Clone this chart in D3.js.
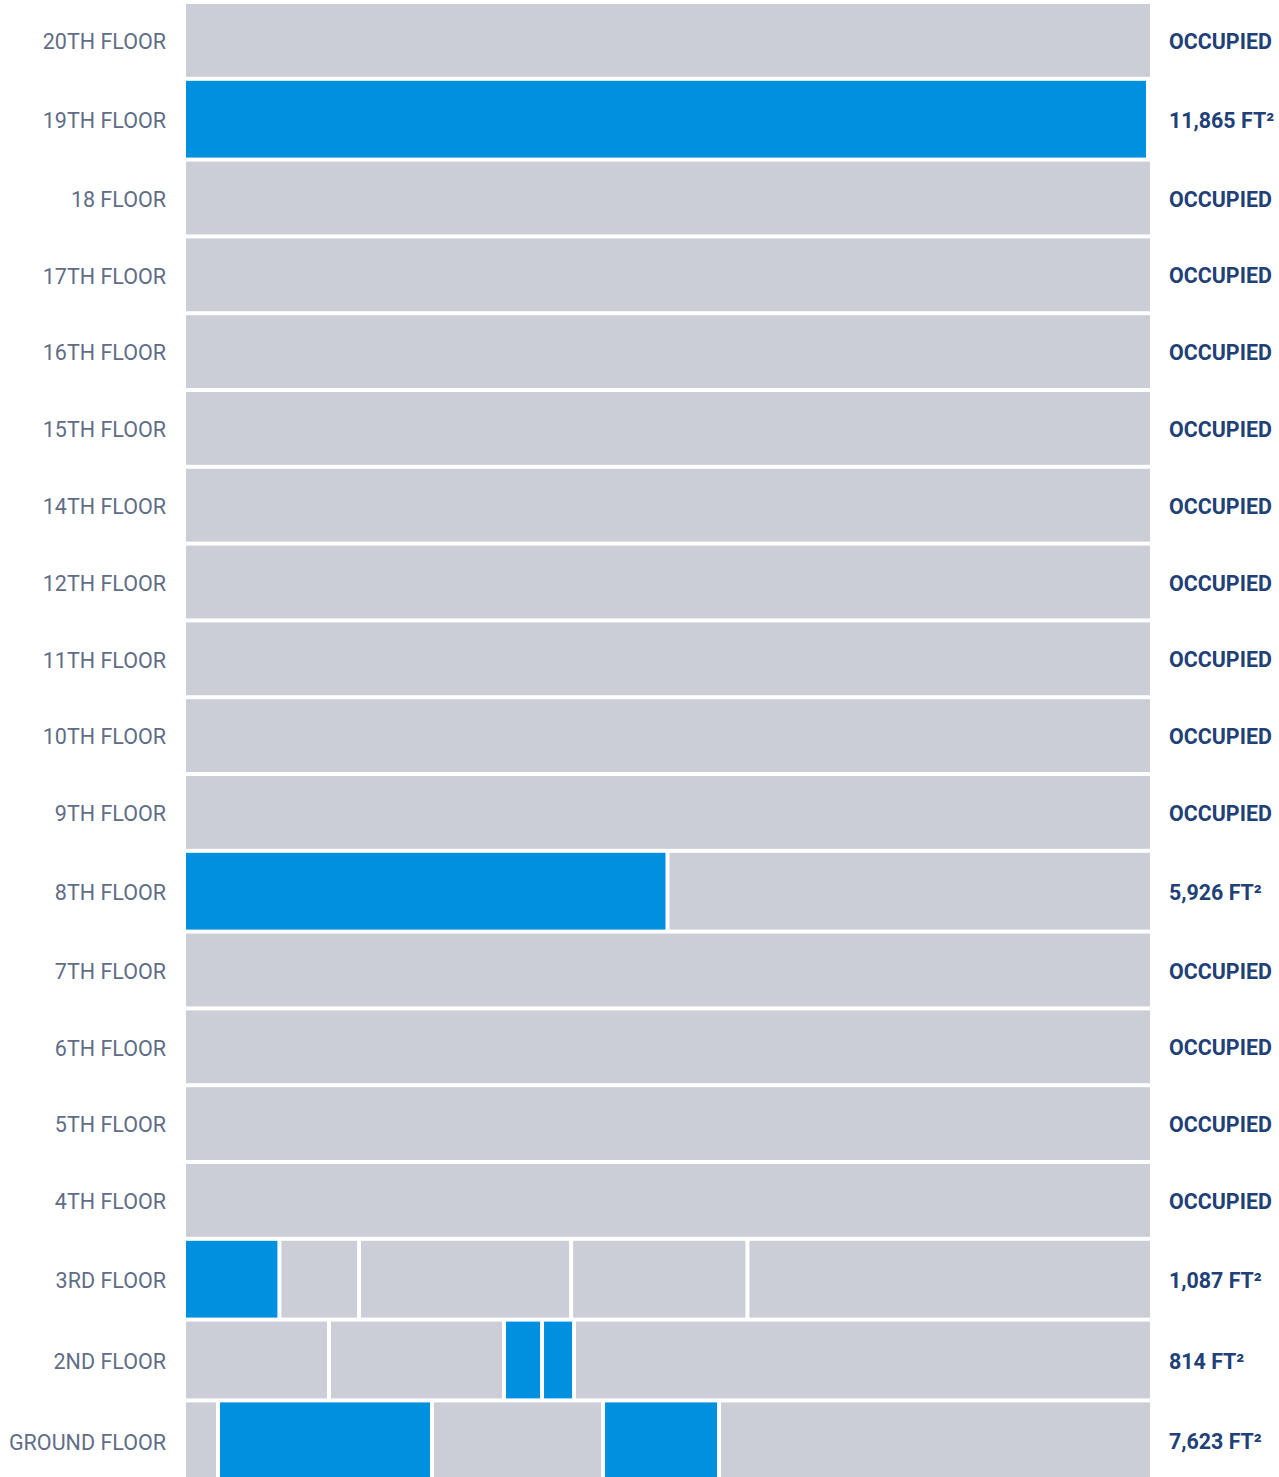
<!doctype html>
<html>
  <head>
    <script src="https://cdnjs.cloudflare.com/ajax/libs/d3/7.8.5/d3.min.js"></script>
    <style>
      body { margin: 0; background: #fff; }
      text { font-family: Roboto, "Noto Sans", sans-serif; }
    </style>
  </head>
  <body>
    <svg></svg>
    <script>
      var width = 1279,
          height = 1477;

      // floors, top to bottom
      var floors = ["20TH FLOOR", "19TH FLOOR", "18 FLOOR", "17TH FLOOR", "16TH FLOOR",
        "15TH FLOOR", "14TH FLOOR", "12TH FLOOR", "11TH FLOOR", "10TH FLOOR", "9TH FLOOR",
        "8TH FLOOR", "7TH FLOOR", "6TH FLOOR", "5TH FLOOR", "4TH FLOOR", "3RD FLOOR",
        "2ND FLOOR", "GROUND FLOOR"];

      // available area per floor (null = occupied)
      var vacantArea = [null, 11865, null, null, null, null, null, null, null, null, null,
        5926, null, null, null, null, 1087, 814, 7623];

      // units on each floor, areas in ft² (floor plate 11,865)
      var plate = 11865;
      var unitAreas = [
        [11865], [11865], [11865], [11865], [11865], [11865], [11865], [11865], [11865],
        [11865], [11865],
        [5926, 5939],
        [11865], [11865], [11865], [11865],
        [1150, 980, 2610, 2170, 4955],
        [1760, 2154, 468, 394, 7089],
        [394, 2634, 2105, 1428, 5304]
      ];
      // 1 = available unit, 0 = occupied
      var unitVacant = [
        [0], [1], [0], [0], [0], [0], [0], [0], [0], [0], [0],
        [1, 0],
        [0], [0], [0], [0],
        [1, 0, 0, 0, 0],
        [0, 0, 1, 1, 0],
        [0, 1, 0, 1, 0]
      ];

      var svg = d3.select("svg").attr("width", width).attr("height", height);

      var x = d3.scaleLinear().domain([0, plate]).range([186, 1150]);

      // row heights: floors with space available get a taller band
      var gap = 4, rowTop = 4;
      var rows = floors.map(function(f, i) {
        var h = vacantArea[i] ? 76.8 : 72.8;
        var r = { name: f, i: i, y: rowTop, h: h };
        rowTop += h + gap;
        return r;
      });

      var fmt = d3.format(",");

      var row = svg.selectAll("g.floor").data(rows)
        .enter()
        .append("g")
          .attr("class", "floor")
          .attr("transform", d => "translate(0," + d.y + ")");

      // units
      row.selectAll("rect")
        .data(d => {
          var start = 0;
          return unitAreas[d.i].map((a, k) => {
            var u = { x0: start, x1: start + a, vacant: unitVacant[d.i][k], h: d.h };
            start += a;
            return u;
          });
        })
        .enter()
        .append("rect")
          .attr("x", d => x(d.x0) + (d.x0 > 0 ? 2 : 0))
          .attr("width", d => x(d.x1) - x(d.x0) - (d.x0 > 0 ? 2 : 0) - (d.x1 < plate ? 2 : 0) - (d.vacant && d.x1 >= plate ? 4 : 0))
          .attr("y", 0)
          .attr("height", d => d.h)
          .style("fill", d => d.vacant ? "#0090e0" : "#cbced6");

      // floor names
      row.append("text")
        .text(d => d.name)
          .attr("x", 166)
          .attr("y", d => d.h / 2 + 1)
          .attr("dy", "0.36em")
          .attr("text-anchor", "end")
          .attr("font-size", "21.5px")
          .style("fill", "#5f6d88");

      // availability
      row.append("text")
        .text(d => vacantArea[d.i] ? fmt(vacantArea[d.i]) + " FT²" : "OCCUPIED")
          .attr("x", 1169)
          .attr("y", d => d.h / 2 + 1)
          .attr("dy", "0.36em")
          .attr("font-size", "21.4px")
          .attr("font-weight", "bold")
          .style("fill", "#1f4178");
    </script>
  </body>
</html>
